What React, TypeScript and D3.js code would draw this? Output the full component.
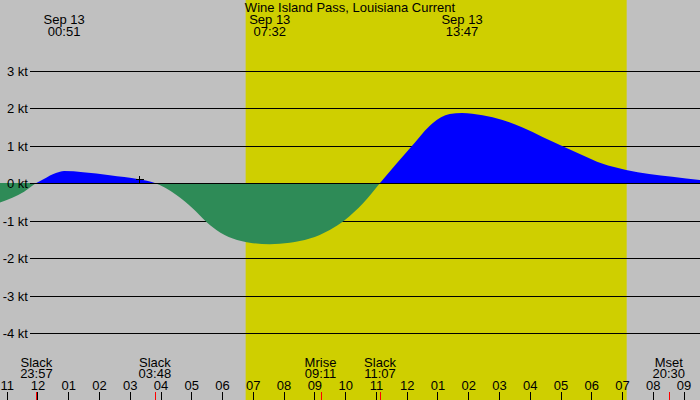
import { useEffect, useRef } from "react";
import * as d3 from "d3";

const chartTitle = "Wine Island Pass, Louisiana Current";

// current samples (knots, + = flood, - = ebb)
const sampleTimes = [
  "2025-09-12 22:46", "2025-09-12 23:10", "2025-09-12 23:33", "2025-09-12 23:57",
  "2025-09-13 00:17", "2025-09-13 00:30", "2025-09-13 00:43", "2025-09-13 00:51",
  "2025-09-13 01:28", "2025-09-13 02:20", "2025-09-13 03:17", "2025-09-13 03:48",
  "2025-09-13 04:30", "2025-09-13 05:02", "2025-09-13 05:25", "2025-09-13 05:48",
  "2025-09-13 06:20", "2025-09-13 06:53", "2025-09-13 07:32", "2025-09-13 08:11",
  "2025-09-13 08:50", "2025-09-13 09:29", "2025-09-13 09:58", "2025-09-13 10:34",
  "2025-09-13 11:07", "2025-09-13 12:10", "2025-09-13 12:49", "2025-09-13 13:23",
  "2025-09-13 13:47", "2025-09-13 14:27", "2025-09-13 15:06", "2025-09-13 15:45",
  "2025-09-13 16:24", "2025-09-13 17:00", "2025-09-13 17:41", "2025-09-13 18:20",
  "2025-09-13 19:07", "2025-09-13 19:52", "2025-09-13 20:37", "2025-09-13 21:31",
];
const sampleSpeeds = [
  -0.52, -0.39, -0.23, 0,
  0.15, 0.24, 0.30, 0.32,
  0.29, 0.21, 0.10, 0,
  -0.32, -0.68, -0.99, -1.25,
  -1.48, -1.59, -1.63, -1.59,
  -1.48, -1.25, -0.99, -0.54,
  0, 1.0, 1.59, 1.84,
  1.87, 1.81, 1.68, 1.48,
  1.23, 1.0, 0.75, 0.52,
  0.35, 0.24, 0.17, 0.08,
];

const yTicks = [3, 2, 1, 0, -1, -2, -3, -4];
const peakTimes = ["2025-09-13 00:51", "2025-09-13 07:32", "2025-09-13 13:47"];
const eventNames = ["Slack", "Slack", "Mrise", "Slack", "Mset"];
const eventTimes = ["2025-09-12 23:57", "2025-09-13 03:48", "2025-09-13 09:11", "2025-09-13 11:07", "2025-09-13 20:30"];
const daylight = ["2025-09-13 06:45", "2025-09-13 19:08"];
const nowTime = "2025-09-13 03:17";
const nowSpeed = 0.1;
const timeWindow = ["2025-09-12 22:46", "2025-09-13 21:31"];

const W = 700;
const H = 400;
const FONT = "'Liberation Sans', Arial, sans-serif";

export default function App() {
  const svgRef = useRef<SVGSVGElement>(null);

  useEffect(() => {
    if (!svgRef.current) return;
    const parse = d3.timeParse("%Y-%m-%d %H:%M");
    const svg = d3.select(svgRef.current);
    svg.selectAll("*").remove();

    const x = d3.scaleTime()
      .domain([parse(timeWindow[0])!, parse(timeWindow[1])!])
      .range([0, W]);
    const y = d3.scaleLinear().domain([-4, 3]).range([333, 70.5]);

    const data = sampleTimes.map((t, i) => ({ t: parse(t)!, v: sampleSpeeds[i] }));

    // night background + daylight band
    svg.append("rect").attr("width", W).attr("height", H).attr("fill", "#c0c0c0");
    svg.append("rect")
      .attr("x", x(parse(daylight[0])!))
      .attr("width", x(parse(daylight[1])!) - x(parse(daylight[0])!))
      .attr("height", H)
      .attr("fill", "#cfcf00");

    // horizontal grid
    yTicks.forEach(k => {
      svg.append("line")
        .attr("x1", 30).attr("x2", W)
        .attr("y1", Math.round(y(k)) + 0.5).attr("y2", Math.round(y(k)) + 0.5)
        .attr("stroke", "#000").attr("stroke-width", 1)
        .attr("shape-rendering", "crispEdges");
    });

    // current area, blue for flood, green for ebb
    const zeroY = y(0);
    const defs = svg.append("defs");
    defs.append("clipPath").attr("id", "above")
      .append("rect").attr("width", W).attr("height", zeroY);
    defs.append("clipPath").attr("id", "below")
      .append("rect").attr("y", zeroY).attr("width", W).attr("height", H - zeroY);

    const area = d3.area<{ t: Date; v: number }>()
      .x(d => x(d.t))
      .y0(zeroY)
      .y1(d => y(d.v))
      .curve(d3.curveMonotoneX);

    svg.append("path").datum(data).attr("d", area).attr("fill", "#0000ff").attr("clip-path", "url(#above)");
    svg.append("path").datum(data).attr("d", area).attr("fill", "#2e8b57").attr("clip-path", "url(#below)");

    svg.append("line")
      .attr("x1", 30).attr("x2", W)
      .attr("y1", Math.round(zeroY) + 0.5).attr("y2", Math.round(zeroY) + 0.5)
      .attr("stroke", "#000").attr("shape-rendering", "crispEdges");

    // kt labels sit on top of the fill
    yTicks.forEach(k => {
      svg.append("text")
        .attr("x", 28).attr("y", y(k) + 5)
        .attr("text-anchor", "end")
        .style("font", `13px ${FONT}`)
        .text(`${k} kt`);
    });

    // "now" cross
    const nx = Math.round(x(parse(nowTime)!)) + 0.5;
    const ny = Math.round(y(nowSpeed)) + 0.5;
    svg.append("path")
      .attr("d", `M${nx - 4},${ny}H${nx + 4}M${nx},${ny - 4}V${ny + 4}`)
      .attr("stroke", "#000").attr("shape-rendering", "crispEdges");

    // title + max current labels
    svg.append("text")
      .attr("x", W / 2).attr("y", 12)
      .attr("text-anchor", "middle")
      .style("font", `13px ${FONT}`)
      .text(chartTitle);

    const fmtDay = d3.timeFormat("%b %d");
    const fmtHM = d3.timeFormat("%H:%M");
    peakTimes.forEach(p => {
      const d = parse(p)!;
      const t = svg.append("text")
        .attr("text-anchor", "middle")
        .style("font", `13px ${FONT}`);
      t.append("tspan").attr("x", x(d)).attr("y", 24).text(fmtDay(d));
      t.append("tspan").attr("x", x(d)).attr("y", 36).text(fmtHM(d));
    });

    // slack / moon events along the bottom
    eventTimes.forEach((e, i) => {
      const d = parse(e)!;
      const t = svg.append("text")
        .attr("text-anchor", "middle")
        .style("font", `13px ${FONT}`);
      t.append("tspan").attr("x", x(d)).attr("y", 367).text(eventNames[i]);
      t.append("tspan").attr("x", x(d)).attr("y", 378).text(fmtHM(d));
    });

    // hour ticks
    const fmtHour = d3.timeFormat("%I");
    x.ticks(d3.timeHour.every(1)!).forEach(h => {
      const hx = Math.floor(x(h)) + 0.5;
      svg.append("line")
        .attr("x1", hx).attr("x2", hx).attr("y1", 392).attr("y2", H)
        .attr("stroke", "#000").attr("shape-rendering", "crispEdges");
      svg.append("text")
        .attr("x", x(h)).attr("y", 390)
        .attr("text-anchor", "middle")
        .style("font", `13px ${FONT}`)
        .text(fmtHour(h));
    });

    eventTimes.forEach(e => {
      const ex = Math.round(x(parse(e)!)) + 0.5;
      svg.append("line")
        .attr("x1", ex).attr("x2", ex).attr("y1", 392).attr("y2", H)
        .attr("stroke", "#ff0000").attr("shape-rendering", "crispEdges");
    });
  }, []);

  return (
    <div style={{ position: "fixed", left: 0, top: 0, width: W, height: H }}>
      <svg ref={svgRef} width={W} height={H} style={{ display: "block" }} />
    </div>
  );
}
